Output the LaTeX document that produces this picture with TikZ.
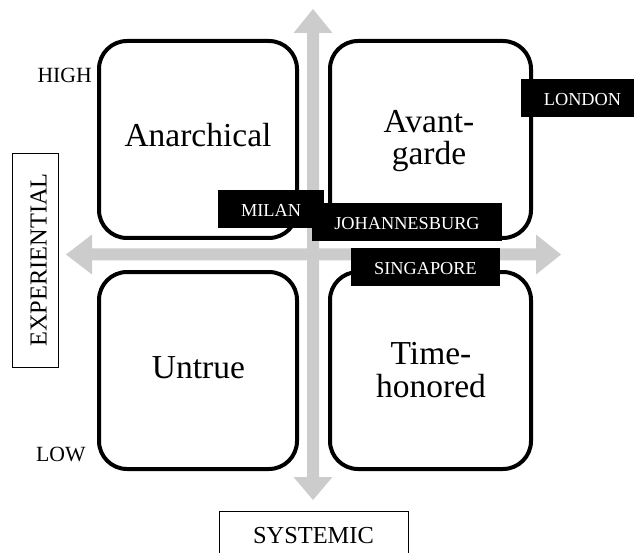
\documentclass[tikz,border=0pt]{standalone}
\usepackage{fontspec}
\setmainfont{Liberation Serif}
\definecolor{axisgray}{HTML}{CCCCCC}
\begin{document}
\begin{tikzpicture}[x=1pt,y=-1pt,
  quad/.style={draw=black, line width=4pt, rounded corners=28pt, inner sep=0pt},
  bigtext/.style={inner sep=0pt, anchor=base, align=center, font=\fontsize{33.5}{32.5}\selectfont},
  city/.style={fill=black, text=white, inner sep=0pt, minimum height=38pt, text height=16pt, text depth=0pt, font=\fontsize{18.3}{20}\selectfont},
  axislabel/.style={draw=black, line width=0.9pt, inner sep=0pt, font=\fontsize{24.4}{26}\selectfont},
  level/.style={inner sep=0pt, font=\fontsize{21.7}{24}\selectfont}]
\useasboundingbox (0,0) rectangle (634,553);
% axes
\fill[axisgray] (313,9) -- (332.5,33) -- (319,33) -- (319,477) -- (332.5,477) -- (313,500)
  -- (293.5,477) -- (307,477) -- (307,33) -- (293.5,33) -- cycle;
\fill[axisgray] (66,254.5) -- (92,234.5) -- (92,248.5) -- (536,248.5) -- (536,234.5) -- (561,254.5)
  -- (536,274.5) -- (536,260.5) -- (92,260.5) -- (92,274.5) -- cycle;
% quadrants
\node[quad, minimum width=198pt, minimum height=197pt] (anar) at (198,139.5) {};
\node[quad, minimum width=201pt, minimum height=197pt] (avant) at (430.5,139.5) {};
\node[quad, minimum width=198pt, minimum height=197pt] (untrue) at (198,370.5) {};
\node[quad, minimum width=201pt, minimum height=197pt] (timeh) at (430.5,370.5) {};
\node[bigtext] (tanar) at (198,147) {Anarchical};
\node[bigtext] (tavant) at (429,165) {Avant-\\garde};
\node[bigtext] (tuntrue) at (198.5,378) {Untrue};
\node[bigtext] (ttimeh) at (431,397) {Time-\\honored};
% levels
\node[level, anchor=base east] (high) at (92,83) {HIGH};
\node[level, anchor=base west] (low) at (36,461.5) {LOW};
% axis labels
\node[axislabel, rotate=90, minimum width=214pt, minimum height=46pt, text height=22pt, text depth=0pt] (exper) at (35.7,260) {EXPERIENTIAL};
\node[axislabel, minimum width=189pt, minimum height=48pt, text height=16pt, text depth=0pt] (syst) at (313.5,535) {SYSTEMIC};
% cities
\node[city, minimum width=123pt] (london) at (582.5,98) {LONDON};
\node[city, minimum width=106pt] (milan) at (271,209) {MILAN};
\node[city, minimum width=190pt] (joh) at (407,222) {JOHANNESBURG};
\node[city, minimum width=149pt] (sing) at (425.5,267) {SINGAPORE};
\end{tikzpicture}
\end{document}
